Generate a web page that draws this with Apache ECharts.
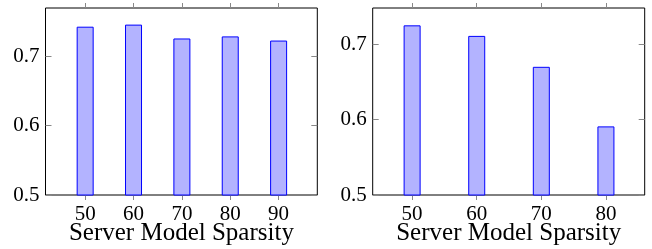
<!DOCTYPE html>
<html>
<head>
<meta charset="utf-8">
<script src="https://cdn.jsdelivr.net/npm/echarts@6/dist/echarts.min.js"></script>
<style>
  html, body { margin: 0; padding: 0; background: #fff; }
  #chart { width: 652px; height: 249px; }
</style>
</head>
<body>
<div id="chart"></div>
<script>
// two panels: accuracy vs server model sparsity
var leftSparsity = [50, 60, 70, 80, 90];
var leftAcc = [0.743, 0.746, 0.726, 0.729, 0.723];
var rightSparsity = [50, 60, 70, 80];
var rightAcc = [0.725, 0.711, 0.670, 0.591];
var yTicks = [0.5, 0.6, 0.7];

var FONT = '"Liberation Serif", "DejaVu Serif", serif';
var TICK = '#888';

function pairs(xs, ys) {
    var out = [];
    for (var i = 0; i < xs.length; i++) out.push([xs[i], ys[i]]);
    return out;
}

function xAxes(gi, xs, lo, hi) {
    var bottom = {
        type: 'value', gridIndex: gi, position: 'bottom',
        min: lo, max: hi,
        name: 'Server Model Sparsity', nameLocation: 'middle', nameGap: 26,
        nameMoveOverlap: false,
        nameTextStyle: { fontFamily: FONT, fontSize: 25, color: '#000' },
        axisLine: { show: false },
        splitLine: { show: false },
        axisTick: { show: true, inside: false, length: 5, customValues: xs,
            lineStyle: { color: TICK } },
        axisLabel: { customValues: xs, margin: 9, fontFamily: FONT, fontSize: 21, color: '#000' }
    };
    var top = {
        type: 'value', gridIndex: gi, position: 'top',
        min: lo, max: hi,
        axisLine: { show: false },
        splitLine: { show: false },
        axisTick: { show: true, inside: false, length: 5, customValues: xs,
            lineStyle: { color: TICK } },
        axisLabel: { show: false }
    };
    return [bottom, top];
}

function yAxes(gi, hi) {
    var left = {
        type: 'value', gridIndex: gi, position: 'left',
        min: 0.5, max: hi,
        axisLine: { show: false },
        splitLine: { show: false },
        axisTick: { show: true, inside: true, length: 6, customValues: yTicks,
            lineStyle: { color: TICK } },
        axisLabel: { customValues: yTicks, margin: 6, fontFamily: FONT, fontSize: 21, color: '#000',
            formatter: function (v) { return v.toFixed(1); } }
    };
    var right = {
        type: 'value', gridIndex: gi, position: 'right',
        min: 0.5, max: hi,
        axisLine: { show: false },
        splitLine: { show: false },
        axisTick: { show: true, inside: true, length: 6, customValues: yTicks,
            lineStyle: { color: TICK } },
        axisLabel: { show: false }
    };
    return [left, right];
}

function barSeries(xi, yi, data) {
    return {
        type: 'bar', xAxisIndex: xi, yAxisIndex: yi,
        data: data, barWidth: 17,
        itemStyle: { color: '#b3b3ff', borderColor: '#0000ff', borderWidth: 1 },
        silent: true
    };
}

var lx = xAxes(0, leftSparsity, 41.8, 98.0);
var rx = xAxes(1, rightSparsity, 43.9, 86.0);
var ly = yAxes(0, 0.77);
var ry = yAxes(1, 0.748);

var chart = echarts.init(document.getElementById('chart'), null, { renderer: 'canvas' });
chart.setOption({
    animation: false,
    grid: [
        { left: 45.5, right: 334.7, top: 8, bottom: 54, show: true, outerBoundsMode: 'none',
          containLabel: false, borderColor: '#000', borderWidth: 1, backgroundColor: 'transparent' },
        { left: 372.7, right: 7.3, top: 8, bottom: 54, show: true, outerBoundsMode: 'none',
          containLabel: false, borderColor: '#000', borderWidth: 1, backgroundColor: 'transparent' }
    ],
    xAxis: [lx[0], lx[1], rx[0], rx[1]],
    yAxis: [ly[0], ly[1], ry[0], ry[1]],
    series: [
        barSeries(0, 0, pairs(leftSparsity, leftAcc)),
        barSeries(2, 2, pairs(rightSparsity, rightAcc))
    ]
});
</script>
</body>
</html>
